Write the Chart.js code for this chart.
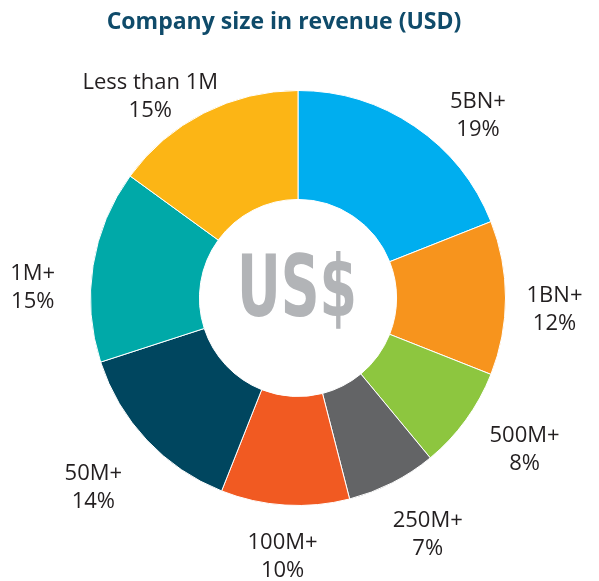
<!DOCTYPE html>
<html lang="en">
<head>
    <meta charset="UTF-8">
    <title>Company size in revenue (USD)</title>
    <script src="https://cdn.jsdelivr.net/npm/chart.js"></script>
    <style>
        html, body { margin: 0; padding: 0; background: #fff; }
        #wrap { width: 599px; height: 581px; }
    </style>
</head>
<body>
    <div id="wrap"><canvas id="sizeChart" width="599" height="581"></canvas></div>
    <script>
        const categories = ['5BN+', '1BN+', '500M+', '250M+', '100M+', '50M+', '1M+', 'Less than 1M'];
        const shares = [19, 12, 8, 7, 10, 14, 15, 15];
        const sliceColors = ['#00aeef', '#f7941d', '#8dc63f', '#636466', '#f15a22', '#00465f', '#00a9a8', '#fcb515'];

        // pixel nudges for the outside labels, so they sit where the original put them
        const labelNudge = [[33, 34], [-5, 12], [15, -2], [11, 4], [1, -2], [-14, 11], [-7, 31], [-29, 32]];

        const extras = {
            id: 'extras',
            afterDraw(chart) {
                const ctx = chart.ctx;
                const arcs = chart.getDatasetMeta(0).data;
                ctx.save();

                // title
                ctx.fillStyle = '#0f4b6a';
                ctx.font = 'bold 23px "Open Sans"';
                ctx.textAlign = 'center';
                ctx.textBaseline = 'middle';
                ctx.fillText('Company size in revenue (USD)', 284, 22);

                // outside labels
                ctx.fillStyle = '#231f20';
                ctx.font = '22px "Open Sans"';
                arcs.forEach((arc, i) => {
                    const mid = (arc.startAngle + arc.endAngle) / 2;
                    const r = arc.outerRadius + 54;
                    const x = arc.x + Math.cos(mid) * r + labelNudge[i][0];
                    const y = arc.y + Math.sin(mid) * r + labelNudge[i][1];
                    ctx.fillText(categories[i], x, y - 14);
                    ctx.fillText(shares[i] + '%', x, y + 14);
                });

                // centre mark
                const a = arcs[0];
                ctx.fillStyle = '#b2b4b7';
                ctx.font = 'bold 86px "Liberation Sans Narrow", "DejaVu Sans Condensed", sans-serif';
                const w = ctx.measureText('US$').width;
                ctx.translate(a.x - 1, a.y - 4);
                ctx.scale(120 / w, 1);
                ctx.fillText('US$', 0, 0);
                ctx.restore();
            }
        };

        new Chart(document.getElementById('sizeChart'), {
            type: 'doughnut',
            data: {
                labels: categories,
                datasets: [{
                    data: shares,
                    backgroundColor: sliceColors,
                    borderColor: '#ffffff',
                    borderWidth: 1
                }]
            },
            options: {
                responsive: false,
                animation: false,
                cutout: '47.5%',
                layout: { padding: { left: 90, right: 93, top: 90, bottom: 75 } },
                plugins: {
                    legend: { display: false },
                    tooltip: { enabled: false }
                }
            },
            plugins: [extras]
        });
    </script>
</body>
</html>
